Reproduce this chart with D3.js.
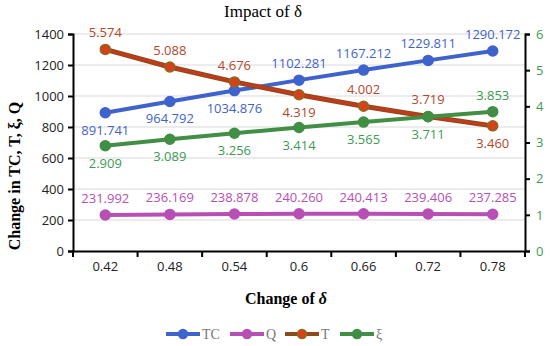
<!DOCTYPE html>
<html lang="en">
<head>
  <meta charset="UTF-8">
  <title>Impact of δ</title>
  <style>
    body { margin: 0; background: #fff; }
    svg { display: block; }
    .tick text { font-family: "Open Sans", sans-serif; font-size: 13px; fill: #222; }
    .lbl { font-family: "Open Sans", sans-serif; font-size: 13px; }
  </style>
</head>
<body>
  <div id="chart"></div>
  <script src="https://d3js.org/d3.v7.min.js"></script>
  <script>
    var categories = ["0.42", "0.48", "0.54", "0.6", "0.66", "0.72", "0.78"];
    var tcValues = [891.741, 964.792, 1034.876, 1102.281, 1167.212, 1229.811, 1290.172];
    var qValues = [231.992, 236.169, 238.878, 240.260, 240.413, 239.406, 237.285];
    var tValues = [5.574, 5.088, 4.676, 4.319, 4.002, 3.719, 3.460];
    var xiValues = [2.909, 3.089, 3.256, 3.414, 3.565, 3.711, 3.853];
    var leftTicks = [0, 200, 400, 600, 800, 1000, 1200, 1400];
    var rightTicks = [0, 1, 2, 3, 4, 5, 6];

    var W = 550, H = 346;
    var margin = { top: 34, right: 25, bottom: 95, left: 73 };
    var width = W - margin.left - margin.right,
        height = H - margin.top - margin.bottom;

    var svg = d3.select("#chart").append("svg")
      .attr("width", W).attr("height", H);

    var g = svg.append("g")
      .attr("transform", "translate(" + margin.left + "," + margin.top + ")");

    var x = d3.scaleBand().domain(categories).range([0, width]);
    var yL = d3.scaleLinear().domain([0, 1400]).range([height, 0]);
    var yR = d3.scaleLinear().domain([0, 6]).range([height, 0]);

    // gridlines
    g.selectAll(".grid").data(leftTicks.slice(1)).enter().append("line")
      .attr("x1", 0).attr("x2", width)
      .attr("y1", function(d) { return yL(d); })
      .attr("y2", function(d) { return yL(d); })
      .attr("stroke", "#d9d9d9").attr("stroke-width", 1);

    // axes
    var xAxis = g.append("g")
      .attr("transform", "translate(0," + height + ")")
      .call(d3.axisBottom(x).tickSize(0).tickPadding(11));
    xAxis.select(".domain").attr("stroke", "#000").attr("stroke-width", 2);
    // tick marks sit on the band edges
    var bounds = categories.map(function(c) { return x(c); }).concat([width]);
    xAxis.selectAll(".bnd").data(bounds).enter().append("line")
      .attr("x1", function(d) { return d; }).attr("x2", function(d) { return d; })
      .attr("y1", 0).attr("y2", 6).attr("stroke", "#000").attr("stroke-width", 2);

    var lAxis = g.append("g")
      .call(d3.axisLeft(yL).tickValues(leftTicks).tickFormat(d3.format("d")).tickSize(5).tickPadding(4));
    lAxis.select(".domain").attr("stroke", "#000").attr("stroke-width", 2);
    lAxis.selectAll(".tick line").attr("stroke", "#000").attr("stroke-width", 2);

    var rAxis = g.append("g")
      .attr("transform", "translate(" + width + ",0)")
      .call(d3.axisRight(yR).tickValues(rightTicks).tickFormat(d3.format("d")).tickSize(5).tickPadding(6));
    rAxis.select(".domain").attr("stroke", "#000").attr("stroke-width", 2);
    rAxis.selectAll(".tick line").attr("stroke", "#000").attr("stroke-width", 2);
    rAxis.selectAll(".tick text").style("fill", "#3e9a52");

    var cx = function(i) { return x(categories[i]) + x.bandwidth() / 2; };

    var series = [
      { name: "TC", values: tcValues, y: yL, line: "#3f63cc", fill: "#3f63cc", ring: "#3f63cc", text: "#3f63cc",
        pos: [1, 1, 1, -1, -1, -1, -1] },
      { name: "Q", values: qValues, y: yL, line: "#b84fb5", fill: "#b84fb5", ring: "#b84fb5", text: "#b84fb5",
        pos: [-1, -1, -1, -1, -1, -1, -1] },
      { name: "T", values: tValues, y: yR, line: "#c23a1c", fill: "#d8401c", ring: "#8c6a1e", text: "#b3482a",
        pos: [-1, -1, -1, 1, -1, -1, 1] },
      { name: "ξ", values: xiValues, y: yR, line: "#418f45", fill: "#418f45", ring: "#418f45", text: "#3e9a52",
        pos: [1, 1, 1, 1, 1, 1, -1] }
    ];

    var line = d3.line()
      .x(function(d, i) { return cx(i); });

    series.forEach(function(s) {
      line.y(function(d) { return s.y(d); });
      if (s.name === "T") {
        g.append("path").datum(s.values)
          .attr("fill", "none").attr("stroke", "#8c4a1a").attr("stroke-width", 5)
          .attr("d", line);
        g.append("path").datum(s.values)
          .attr("fill", "none").attr("stroke", s.line).attr("stroke-width", 3)
          .attr("d", line);
      } else {
        g.append("path").datum(s.values)
          .attr("fill", "none").attr("stroke", s.line).attr("stroke-width", 4)
          .attr("d", line);
      }
      g.selectAll(null).data(s.values).enter().append("circle")
        .attr("cx", function(d, i) { return cx(i); })
        .attr("cy", function(d) { return s.y(d); })
        .attr("r", 5)
        .attr("fill", s.fill)
        .attr("stroke", s.ring).attr("stroke-width", 1.5);
    });

    series.forEach(function(s) {
      g.selectAll(null).data(s.values).enter().append("text")
        .attr("class", "lbl")
        .attr("x", function(d, i) { return cx(i); })
        .attr("y", function(d, i) { return s.y(d) + (s.pos[i] > 0 ? 22 : -12); })
        .attr("text-anchor", "middle")
        .attr("fill", s.text)
        .text(function(d) { return d.toFixed(3); });
    });

    // titles
    svg.append("text")
      .attr("x", 263).attr("y", 17)
      .attr("text-anchor", "middle")
      .style("font-family", "'Liberation Serif', 'Times New Roman', serif")
      .style("font-size", "17px")
      .text("Impact of δ");

    svg.append("text")
      .attr("transform", "translate(20,176) rotate(-90)")
      .attr("text-anchor", "middle")
      .style("font-family", "'Liberation Serif', 'Times New Roman', serif")
      .style("font-size", "16px").style("font-weight", "bold")
      .text("Change in TC, T, ξ, Q");

    var xl = svg.append("text")
      .attr("x", 286).attr("y", 304)
      .attr("text-anchor", "middle")
      .style("font-family", "'Liberation Serif', 'Times New Roman', serif")
      .style("font-size", "16px").style("font-weight", "bold");
    xl.append("tspan").text("Change of ");
    xl.append("tspan").style("font-style", "italic").text("δ");

    // legend
    var legendX = [166, 230, 285, 340];
    series.forEach(function(s, i) {
      var lg = svg.append("g").attr("transform", "translate(" + legendX[i] + ",334)");
      lg.append("line").attr("x1", 0).attr("x2", 34).attr("y1", 0).attr("y2", 0)
        .attr("stroke", s.name === "T" ? "#8c4a1a" : s.line).attr("stroke-width", 4);
      lg.append("circle").attr("cx", 17).attr("cy", 0).attr("r", 4.5)
        .attr("fill", s.fill).attr("stroke", s.ring).attr("stroke-width", 1.5);
      lg.append("text").attr("x", 36).attr("y", 5)
        .style("font-family", "'Liberation Serif', 'Times New Roman', serif")
        .style("font-size", "14px").attr("fill", "#777")
        .text(s.name);
    });
  </script>
</body>
</html>
